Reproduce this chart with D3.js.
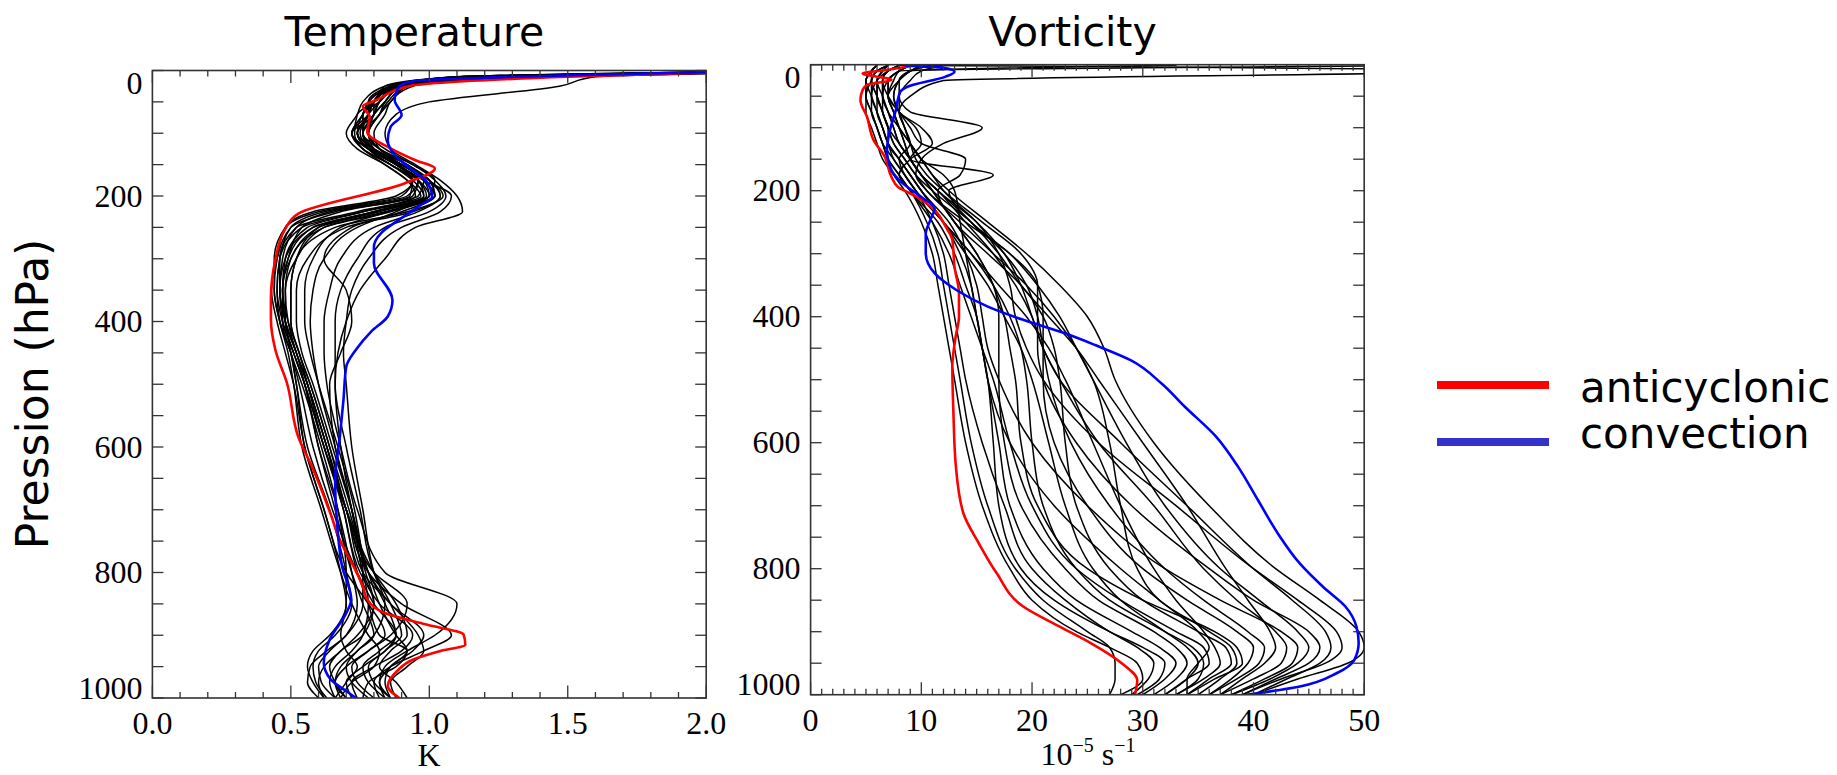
<!DOCTYPE html>
<html>
<head>
<meta charset="utf-8">
<script src="https://cdn.jsdelivr.net/npm/d3@7"></script>
<style>
  body { margin: 0; background: #fff; }
</style>
</head>
<body>
<div id="chart"></div>
<script>
var svgWidth = 1837;
var svgHeight = 775;

// ---- data ----
// temperature: black profiles share these pressure levels (hPa)
var tempLevels = [1, 10, 25, 50, 70, 100, 125, 150, 175, 200, 225, 250, 300, 350, 400, 450, 500, 600, 700, 800, 850, 900, 925, 950, 975, 1000];
var tempBlack = [
  [2.4,1.3,0.90,0.82,0.80,0.76,0.82,0.92,0.98,1.02,0.80,0.58,0.48,0.46,0.47,0.51,0.55,0.60,0.66,0.72,0.76,0.80,0.74,0.68,0.66,0.70],
  [2.5,1.2,0.88,0.78,0.76,0.72,0.78,0.88,0.96,0.92,0.62,0.50,0.46,0.45,0.46,0.50,0.53,0.58,0.65,0.74,0.80,0.88,0.84,0.76,0.70,0.72],
  [2.3,1.4,0.92,0.85,0.82,0.78,0.80,0.90,1.00,1.05,0.92,0.66,0.52,0.50,0.50,0.53,0.57,0.64,0.70,0.78,0.90,1.08,0.98,0.86,0.80,0.82],
  [2.2,1.1,0.86,0.80,0.74,0.73,0.76,0.86,0.94,0.90,0.60,0.48,0.44,0.44,0.46,0.50,0.52,0.56,0.64,0.70,0.72,0.66,0.60,0.58,0.59,0.63],
  [2.6,1.6,1.47,1.00,0.88,0.84,0.86,0.95,1.04,1.10,1.12,0.95,0.84,0.75,0.70,0.67,0.66,0.68,0.72,0.78,0.84,0.88,0.82,0.76,0.78,0.84],
  [2.4,1.2,0.84,0.76,0.74,0.70,0.74,0.84,0.92,0.95,0.76,0.56,0.48,0.47,0.49,0.53,0.56,0.62,0.69,0.75,0.82,0.94,0.90,0.80,0.72,0.74],
  [2.3,1.3,0.90,0.84,0.80,0.78,0.84,0.94,1.02,1.00,0.85,0.68,0.58,0.55,0.55,0.57,0.60,0.67,0.73,0.76,0.76,0.70,0.64,0.60,0.61,0.66],
  [2.5,1.1,0.86,0.80,0.78,0.74,0.80,0.90,0.98,0.96,0.66,0.50,0.45,0.43,0.45,0.48,0.51,0.55,0.62,0.70,0.78,0.84,0.78,0.72,0.74,0.80],
  [2.2,1.2,0.88,0.82,0.76,0.76,0.78,0.86,0.94,0.98,0.88,0.74,0.62,0.58,0.57,0.58,0.60,0.66,0.72,0.78,0.86,0.98,0.94,0.86,0.84,0.86],
  [2.4,1.3,0.90,0.80,0.80,0.72,0.76,0.84,0.92,0.97,0.74,0.52,0.46,0.46,0.48,0.52,0.56,0.63,0.70,0.80,0.88,0.92,0.86,0.82,0.88,0.92],
  [2.3,1.4,0.94,0.86,0.84,0.80,0.82,0.92,1.00,1.04,0.96,0.80,0.68,0.64,0.62,0.62,0.63,0.68,0.74,0.84,1.10,1.02,0.92,0.84,0.82,0.86],
  [2.5,1.2,0.86,0.78,0.78,0.74,0.78,0.88,0.96,0.94,0.68,0.54,0.49,0.47,0.48,0.50,0.52,0.55,0.62,0.68,0.70,0.64,0.58,0.56,0.58,0.62],
  [2.4,1.3,0.88,0.82,0.80,0.76,0.80,0.90,0.98,1.02,0.86,0.62,0.50,0.48,0.49,0.52,0.56,0.63,0.69,0.74,0.78,0.82,0.92,0.88,0.78,0.76],
  [2.2,1.1,0.84,0.80,0.76,0.74,0.78,0.86,0.96,1.00,0.82,0.60,0.50,0.47,0.47,0.50,0.54,0.61,0.67,0.70,0.70,0.68,0.70,0.74,0.70,0.66],
  [2.5,1.3,0.90,0.84,0.82,0.76,0.80,0.92,1.00,1.02,0.90,0.72,0.62,0.70,0.72,0.68,0.64,0.66,0.72,0.76,0.80,0.76,0.68,0.64,0.66,0.70],
  [2.3,1.2,0.86,0.78,0.76,0.72,0.76,0.86,0.94,0.88,0.58,0.48,0.45,0.44,0.46,0.49,0.51,0.54,0.61,0.68,0.72,0.78,0.82,0.80,0.72,0.68],
  [2.4,1.4,0.92,0.86,0.82,0.78,0.82,0.94,1.02,1.06,1.00,0.84,0.74,0.68,0.66,0.66,0.66,0.70,0.75,0.80,0.86,0.90,0.84,0.78,0.80,0.86],
  [2.6,1.2,0.88,0.80,0.78,0.72,0.78,0.90,0.98,1.00,0.76,0.54,0.46,0.45,0.47,0.51,0.55,0.62,0.70,0.80,0.92,0.86,0.78,0.70,0.66,0.68],
  [2.3,1.1,0.86,0.82,0.78,0.76,0.80,0.88,0.96,0.98,0.80,0.60,0.52,0.50,0.50,0.53,0.57,0.64,0.71,0.77,0.80,0.74,0.68,0.62,0.60,0.62],
  [2.4,1.3,0.90,0.84,0.80,0.74,0.78,0.90,1.00,1.04,0.94,0.70,0.56,0.52,0.52,0.54,0.58,0.65,0.72,0.78,0.82,0.88,0.92,0.86,0.82,0.84],
  [2.5,1.2,0.88,0.80,0.76,0.76,0.80,0.88,0.94,0.93,0.64,0.52,0.47,0.46,0.48,0.52,0.55,0.60,0.67,0.72,0.74,0.70,0.63,0.57,0.56,0.60],
  [2.2,1.3,0.90,0.82,0.80,0.78,0.82,0.90,1.00,1.02,0.84,0.62,0.52,0.48,0.48,0.51,0.55,0.62,0.70,0.76,0.86,0.96,0.98,0.92,0.86,0.88],
  [2.4,1.2,0.86,0.80,0.78,0.74,0.78,0.88,0.98,1.08,1.04,0.90,0.78,0.72,0.70,0.69,0.70,0.72,0.76,0.80,0.84,0.80,0.74,0.70,0.72,0.78],
  [2.3,1.3,0.88,0.80,0.78,0.75,0.79,0.89,0.96,0.99,0.80,0.58,0.49,0.47,0.48,0.52,0.56,0.63,0.70,0.76,0.78,0.76,0.72,0.66,0.64,0.66]
];
var tempRedLevels = [1, 10, 25, 47, 57, 74, 98, 124, 143, 156, 180, 228, 254, 302, 365, 397, 445, 498, 584, 632, 706, 748, 790, 822, 843, 865, 883, 899, 915, 925, 939, 957, 981, 1000];
var tempRed = [2.2, 1.5, 0.925, 0.81, 0.76, 0.785, 0.776, 0.86, 0.95, 1.02, 0.91, 0.527, 0.478, 0.444, 0.428, 0.428, 0.444, 0.486, 0.527, 0.577, 0.643, 0.677, 0.726, 0.76, 0.776, 0.842, 0.99, 1.124, 1.13, 1.04, 0.94, 0.884, 0.85, 0.892];
var tempBlueLevels = [1, 17, 25, 47, 71, 90, 111, 137, 159, 177, 201, 217, 238, 259, 281, 307, 366, 392, 416, 445, 472, 525, 584, 653, 727, 790, 843, 865, 907, 944, 970, 992, 1000];
var tempBlue = [2.2, 0.94, 0.892, 0.875, 0.90, 0.86, 0.85, 0.88, 0.94, 0.99, 1.01, 0.96, 0.89, 0.826, 0.80, 0.80, 0.867, 0.85, 0.79, 0.735, 0.70, 0.69, 0.677, 0.66, 0.668, 0.685, 0.718, 0.70, 0.64, 0.619, 0.643, 0.71, 0.735];

// vorticity (10^-5 s^-1)
var vortLevels = [1, 10, 25, 50, 75, 100, 125, 150, 175, 200, 250, 300, 350, 400, 450, 500, 600, 700, 800, 850, 900, 925, 950, 975, 1000];
var vortBlack = [
  [7,6,5.5,5,5,5.5,6,6.5,7.5,8.5,10,11,11.5,12,12.5,13,14,15.5,18,20,24,27,29.5,30,28],
  [8,7,6,5.5,5.5,6,6.5,7.5,8.5,9.5,11,12,12.5,13,13.5,14,15.5,17.5,20,23,27,29.5,31,30.5,29],
  [9,8,7,6.5,6.5,7,7,8,9,10,12,13.5,14.5,15,15.5,16,16.5,17,19,22,27,30,32,31.5,29.5],
  [6,5.5,5,5,5.5,6,6.5,7,8,9,11.5,13,14,15,15.5,16,17,18,21,24,29,31.5,33,32,30],
  [10,9,8,7,7.5,8,8.5,9,10,11,13,15,16.5,17,17,17,17.5,19,23,26,31,33,34,33,31],
  [7,6.5,6,6,6,6.5,7,8,9,10,12,14,16,17.5,19,20,21.5,23,25.5,28,32,34,35,34,32],
  [8,60,12,9,8,8.5,9,8,8.5,9.5,12,14.5,16.5,18,19,19.5,20,21,24,27,32,34.5,35.5,35,33],
  [11,9,8,7.5,8,10,11,9,8,9,11,12.5,13.5,14.5,15.5,16.5,18,20,24,28,33,35.5,36,34,32],
  [6,5.5,5,5.5,6,6.5,7,7.5,8.5,9.5,12,14.5,17,19.5,21.5,23,25.5,28,31,33,35.5,36.5,37,35.5,33],
  [9,8,7,7,8,9,10,14,13.5,11.5,13,16,19,21,22,22.5,23,24,27,30,35,37.5,38,36,34],
  [7,6,5.5,6,6.5,7,7.5,8.5,9.5,10.5,13.5,16.5,19.5,22,24,25.5,27,28,29.5,31.5,36,38,38.5,37,35],
  [8,7,6.5,6.5,7,7.5,8,9,10,11,13,15,16.5,17.5,18,18.5,19,20.5,25,30,36.5,38.5,39,36.5,34],
  [33,9,8,8,9,15.5,12,10,9.5,10.5,14,18,20.5,21,21,21,22,25,30,34,38.5,40,39.5,38,36],
  [6,5.5,5.5,6,6.5,7,7.5,8.5,9.5,11,14.5,17.5,19.5,20.5,21,21.5,23.5,27,32,35.5,39.5,41,40.5,38.5,36],
  [9,8,7,7,7.5,8,8.5,9,10,11.5,15,17.5,19,20,21,22.5,26,31,35.5,38.5,42,43,42.5,40,37],
  [7,6,5.5,5.5,6,6.5,7,8,9,10,12.5,14,15,15.5,16,17,20,25,32,37,42.5,44,43.5,41,38],
  [8,7,6.5,7,8,9.5,10,9,16.5,12.5,14.5,18,20.5,22.5,24,25.5,28.5,32,37,40.5,44,45,44,41.5,38],
  [10,9,8,7.5,8,8.5,9,9.5,10.5,12,15.5,19,20.5,20.5,20.5,21,24,29,36,40,45,46,45,42,39],
  [7,6.5,6,6,6.5,7,8,9,10,11.5,14,16.5,18.5,20,21,22.5,28,34,40,43.5,46.5,47,46,43,40],
  [60,8,7.5,7,7.5,8,9,10,11,12.5,16,19.5,22.5,25,26.5,27.5,31,36,42,46,49.5,50,48.5,44,40],
  [8,7,6.5,6.5,7,8,9,10,11,12,15,17,18,18.5,19.5,21,26,33,40,44,47.5,48,46.5,42.5,39],
  [6,5.5,5,5,5.5,6,6.5,7,8,9,10.5,11.5,12,12.5,13,13.5,14.5,16,18.5,21,25,27,27.5,27.5,27],
  [12,10,9,8,8,8.5,9,10,12,13,13.5,14,14.5,15,15.5,16,18,22,28,31.5,35,36,35,34,34],
  [7,6.5,6,6.5,7,7.5,8,9,10,11.5,14.5,17,19,21.5,24,26,30,34,37.5,39.5,41.5,42,41,39,37]
];
var vortRedLevels = [1, 8, 14, 24, 32, 40, 56, 83, 120, 146, 178, 194, 210, 231, 257, 278, 321, 363, 400, 432, 479, 553, 633, 712, 760, 807, 860, 892, 918, 950, 977, 1000];
var vortRed = [9.5, 7.0, 4.7, 7.3, 5.1, 4.7, 4.5, 5.1, 5.7, 6.7, 7.3, 7.9, 9.6, 11.2, 12.2, 12.8, 13.0, 13.4, 13.4, 13.1, 12.8, 12.9, 13.1, 13.8, 15.2, 16.8, 19.2, 22.5, 25.3, 28.1, 29.5, 29.3];
var vortBlueLevels = [1, 5, 11, 19, 35, 43, 72, 109, 135, 167, 188, 210, 228, 247, 268, 299, 331, 358, 384, 405, 426, 445, 469, 506, 543, 590, 638, 691, 744, 792, 829, 860, 892, 918, 945, 966, 987, 1000];
var vortBlue = [8.5, 12.0, 13.0, 12.2, 8.75, 8.1, 7.7, 7.1, 6.9, 7.3, 8.3, 10.0, 11.2, 10.8, 10.4, 10.4, 11.2, 13.2, 16.0, 19.2, 22.9, 25.7, 28.9, 31.7, 33.8, 36.6, 38.6, 40.4, 42.2, 44.2, 46.3, 48.3, 49.3, 49.5, 49.1, 47.5, 44.2, 39.4];

var pressureTicks = [0, 200, 400, 600, 800, 1000];
var tempTicks = [0, 0.5, 1.0, 1.5, 2.0];
var tempTickLabels = ["0.0", "0.5", "1.0", "1.5", "2.0"];
var vortTicks = [0, 10, 20, 30, 40, 50];
var vortTickLabels = ["0", "10", "20", "30", "40", "50"];
var legendNames = ["anticyclonic", "convection"];
var legendColors = ["#ff0000", "#3333cc"];

var svg = d3.select("#chart")
  .append("svg")
  .attr("width", svgWidth)
  .attr("height", svgHeight);

var serif = "'Liberation Serif', 'Times New Roman', serif";
var sans = "'DejaVu Sans', sans-serif";

// draws one profile panel
function drawPanel(p) {
  var x = d3.scaleLinear().domain(p.xDomain).range([p.left, p.right]);
  var y = d3.scaleLinear().domain([0, 1000]).range([p.top, p.bottom]);

  svg.append("clipPath").attr("id", "clip-" + p.id)
    .append("rect")
    .attr("x", p.left).attr("y", p.top)
    .attr("width", p.right - p.left).attr("height", p.bottom - p.top);

  var line = d3.line()
    .x(d => x(d[0]))
    .y(d => y(d[1]))
    .curve(d3.curveMonotoneY);

  var lines = svg.append("g").attr("clip-path", "url(#clip-" + p.id + ")");

  p.black.forEach(function(vals) {
    lines.append("path")
      .datum(vals.map((v, i) => [v, p.levels[i]]))
      .attr("d", line)
      .attr("fill", "none")
      .attr("stroke", "#000")
      .attr("stroke-width", 1.5)
      .attr("stroke-linejoin", "round");
  });
  lines.append("path")
    .datum(p.red.map((v, i) => [v, p.redLevels[i]]))
    .attr("d", line)
    .attr("fill", "none").attr("stroke", "#ff0000").attr("stroke-width", 2.6);
  lines.append("path")
    .datum(p.blue.map((v, i) => [v, p.blueLevels[i]]))
    .attr("d", line)
    .attr("fill", "none").attr("stroke", "#0000ff").attr("stroke-width", 2.6);

  // frame
  svg.append("rect")
    .attr("x", p.left).attr("y", p.top)
    .attr("width", p.right - p.left).attr("height", p.bottom - p.top)
    .attr("fill", "none").attr("stroke", "#333").attr("stroke-width", 1.6);

  var ticks = svg.append("g").attr("stroke", "#333").attr("stroke-width", 1.3);

  // x ticks, inward, on bottom and top
  var xt = d3.range(p.xDomain[0], p.xDomain[1] + p.minorStep / 2, p.minorStep);
  xt.forEach(function(v) {
    var r = v / p.majorStep;
    var len = Math.abs(r - Math.round(r)) < 1e-6 ? 12.5 : 6;
    ticks.append("line").attr("x1", x(v)).attr("x2", x(v))
      .attr("y1", p.bottom).attr("y2", p.bottom - len);
    ticks.append("line").attr("x1", x(v)).attr("x2", x(v))
      .attr("y1", p.top).attr("y2", p.top + len);
  });

  // y ticks every 50 hPa on both sides
  d3.range(0, 1001, 50).forEach(function(v) {
    ticks.append("line").attr("x1", p.left).attr("x2", p.left + 11)
      .attr("y1", y(v)).attr("y2", y(v));
    ticks.append("line").attr("x1", p.right).attr("x2", p.right - 11)
      .attr("y1", y(v)).attr("y2", y(v));
  });

  // tick labels
  p.xTicks.forEach(function(v, i) {
    svg.append("text")
      .attr("x", x(v)).attr("y", p.bottom + 36)
      .attr("text-anchor", "middle")
      .style("font-family", serif).style("font-size", "32px")
      .text(p.xTickLabels[i]);
  });
  pressureTicks.forEach(function(v) {
    var cy = Math.max(p.top + 12.5, Math.min(p.bottom - 10, y(v)));
    svg.append("text")
      .attr("x", p.left - 10).attr("y", cy + 10.5)
      .attr("text-anchor", "end")
      .style("font-family", serif).style("font-size", "32px")
      .text(v);
  });

  // title
  svg.append("text")
    .attr("x", (p.left + p.right) / 2 - 15).attr("y", 46)
    .attr("text-anchor", "middle")
    .style("font-family", sans).style("font-size", "41px")
    .text(p.title);

  return x;
}

drawPanel({
  id: "temp", title: "Temperature",
  left: 152.4, right: 706.2, top: 70.5, bottom: 698,
  xDomain: [0, 2], minorStep: 0.1, majorStep: 0.5,
  xTicks: tempTicks, xTickLabels: tempTickLabels,
  levels: tempLevels, black: tempBlack,
  redLevels: tempRedLevels, red: tempRed,
  blueLevels: tempBlueLevels, blue: tempBlue
});

drawPanel({
  id: "vort", title: "Vorticity",
  left: 810.6, right: 1364.2, top: 64.7, bottom: 694.7,
  xDomain: [0, 50], minorStep: 1, majorStep: 10,
  xTicks: vortTicks, xTickLabels: vortTickLabels,
  levels: vortLevels, black: vortBlack,
  redLevels: vortRedLevels, red: vortRed,
  blueLevels: vortBlueLevels, blue: vortBlue
});

// x axis titles
svg.append("text")
  .attr("x", 429).attr("y", 766)
  .attr("text-anchor", "middle")
  .style("font-family", serif).style("font-size", "32px")
  .text("K");

var vLabel = svg.append("text")
  .attr("x", 1088).attr("y", 765)
  .attr("text-anchor", "middle")
  .style("font-family", serif).style("font-size", "32px");
vLabel.append("tspan").text("10");
vLabel.append("tspan").attr("dy", -13).style("font-size", "20px").text("\u22125");
vLabel.append("tspan").attr("dy", 13).text(" s");
vLabel.append("tspan").attr("dy", -13).style("font-size", "20px").text("\u22121");

// y axis title
svg.append("text")
  .attr("transform", "translate(48, 394) rotate(-90)")
  .attr("text-anchor", "middle")
  .style("font-family", sans).style("font-size", "44px")
  .text("Pression (hPa)");

// legend
var legendY = [385, 442];
var legendTextY = [402, 448];
legendNames.forEach(function(name, i) {
  svg.append("line")
    .attr("x1", 1437).attr("x2", 1549)
    .attr("y1", legendY[i]).attr("y2", legendY[i])
    .attr("stroke", legendColors[i]).attr("stroke-width", 8);
  svg.append("text")
    .attr("x", 1580).attr("y", legendTextY[i])
    .style("font-family", sans).style("font-size", "42px")
    .text(name);
});
</script>
</body>
</html>
